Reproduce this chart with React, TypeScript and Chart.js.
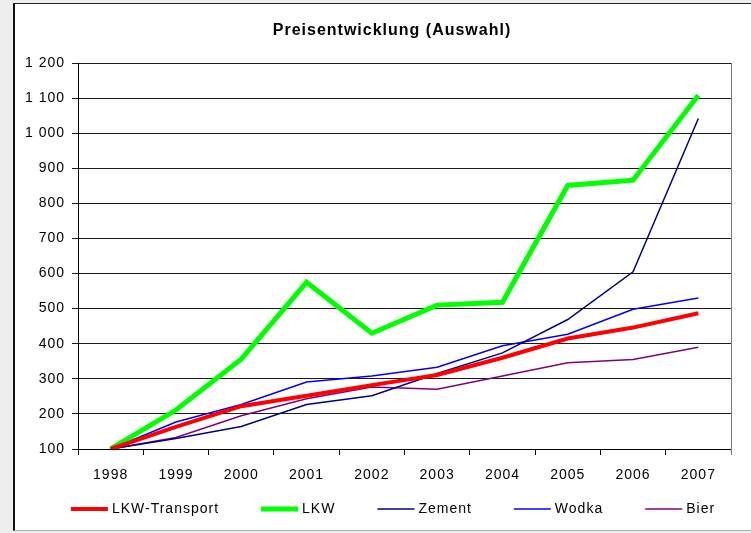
import React, { useEffect, useRef } from "react";
import { Chart, registerables } from "chart.js";

Chart.register(...registerables);

const years = ["1998", "1999", "2000", "2001", "2002", "2003", "2004", "2005", "2006", "2007"];
const lkwTransport = [100, 163, 222, 252, 282, 311, 360, 415, 446, 487];
const lkw = [100, 211, 356, 575, 430, 510, 518, 851, 866, 1108];
const zement = [100, 130, 164, 227, 252, 315, 374, 469, 605, 1042];
const wodka = [100, 177, 227, 291, 308, 333, 394, 427, 498, 530];
const bier = [100, 133, 195, 243, 277, 270, 308, 346, 355, 390];

const chartTitle = "Preisentwicklung (Auswahl)";

const FONT = "'Liberation Sans', Arial, sans-serif";

const spacingPlugin = {
  id: "spacing",
  afterInit(chart: any) {
    chart.ctx.letterSpacing = "1px";
  },
  beforeUpdate(chart: any) {
    chart.ctx.letterSpacing = "1px";
  },
  beforeDraw(chart: any) {
    chart.ctx.letterSpacing = "1px";
  },
};

const framePlugin = {
  id: "frameAndText",
  afterDraw(chart: any) {
    const { ctx, chartArea } = chart;
    ctx.save();
    ctx.letterSpacing = "1px";
    // right frame line of plot area
    ctx.strokeStyle = "#7a7a7a";
    ctx.lineWidth = 1;
    const x = Math.round(chartArea.right) + 0.5;
    ctx.beginPath();
    ctx.moveTo(x, chartArea.top);
    ctx.lineTo(x, chartArea.bottom + 6);
    ctx.stroke();

    // title
    ctx.fillStyle = "#000";
    ctx.font = `bold 16px ${FONT}`;
    ctx.textAlign = "center";
    ctx.textBaseline = "middle";
    ctx.fillText(chartTitle, 392, 31);

    // legend
    ctx.font = `14px ${FONT}`;
    ctx.textAlign = "left";
    const lineLen = 37;
    const gapText = 4;
    const gapItem = 42;
    const ds = chart.data.datasets;
    const widths = ds.map((d: any) => ctx.measureText(d.label).width);
    let total = 0;
    widths.forEach((w: number, i: number) => {
      total += lineLen + gapText + w + (i < widths.length - 1 ? gapItem : 0);
    });
    let cx = 393 - total / 2;
    const ly = 509;
    ds.forEach((d: any, i: number) => {
      ctx.strokeStyle = d.borderColor;
      ctx.lineWidth = d.borderWidth;
      ctx.lineCap = "butt";
      ctx.beginPath();
      ctx.moveTo(cx, ly);
      ctx.lineTo(cx + lineLen, ly);
      ctx.stroke();
      cx += lineLen + gapText;
      ctx.fillStyle = "#000";
      ctx.fillText(d.label, cx, ly);
      cx += widths[i] + gapItem;
    });
    ctx.restore();
  },
};

export default function App() {
  const ref = useRef<HTMLCanvasElement>(null);

  useEffect(() => {
    if (!ref.current) return;
    const mk = (label: string, data: number[], color: string, width: number) => ({
      label,
      data,
      borderColor: color,
      backgroundColor: color,
      borderWidth: width,
      pointRadius: 0,
      pointHoverRadius: 0,
      tension: 0,
      fill: false,
    });
    const chart = new Chart(ref.current, {
      type: "line",
      data: {
        labels: years,
        datasets: [
          mk("LKW-Transport", lkwTransport, "#ff0000", 4),
          mk("LKW", lkw, "#00ff00", 5),
          mk("Zement", zement, "#000080", 1.5),
          mk("Wodka", wodka, "#0000ff", 1.5),
          mk("Bier", bier, "#800080", 1.5),
        ],
      },
      options: {
        animation: false,
        responsive: false,
        maintainAspectRatio: false,
        devicePixelRatio: 1,
        color: "#000",
        font: { family: FONT, size: 14 },
        layout: { padding: { left: 18, right: 20, top: 63, bottom: 44 } },
        plugins: {
          tooltip: { enabled: false },
          title: { display: false },
          legend: { display: false },
        },
        scales: {
          x: {
            offset: true,
            afterFit: (axis: any) => {
              axis.height = 40;
            },
            grid: {
              offset: true,
              drawOnChartArea: false,
              drawTicks: true,
              tickLength: 6,
              color: "#000",
            },
            border: { color: "#000", width: 1 },
            ticks: {
              color: "#000",
              font: { family: FONT, size: 14 },
              padding: 12,
              maxRotation: 0,
            },
          },
          y: {
            min: 100,
            max: 1200,
            afterFit: (axis: any) => {
              axis.width = 60;
            },
            grid: {
              color: "#1a1a1a",
              lineWidth: 1,
              drawTicks: true,
              tickLength: 6,
            },
            border: { color: "#000", width: 1 },
            ticks: {
              stepSize: 100,
              color: "#000",
              font: { family: FONT, size: 14 },
              padding: 7,
              callback: (v: any) => String(v).replace(/\B(?=(\d{3})+(?!\d))/g, " "),
            },
          },
        },
      },
      plugins: [spacingPlugin, framePlugin],
    } as any);
    return () => chart.destroy();
  }, []);

  return (
    <div style={{ position: "absolute", left: 0, top: 0, width: 751, height: 533, background: "#eeeeee", overflow: "hidden" }}>
      <div
        style={{
          position: "absolute",
          left: 13,
          top: 3,
          width: 738,
          height: 528,
          boxSizing: "border-box",
          background: "#ffffff",
          borderLeft: "2px solid #111",
          borderTop: "1px solid #222",
          borderBottom: "1px solid #b0b0b0",
        }}
      />
      <canvas ref={ref} width={751} height={533} style={{ position: "absolute", left: 0, top: 0, width: 751, height: 533 }} />
    </div>
  );
}
